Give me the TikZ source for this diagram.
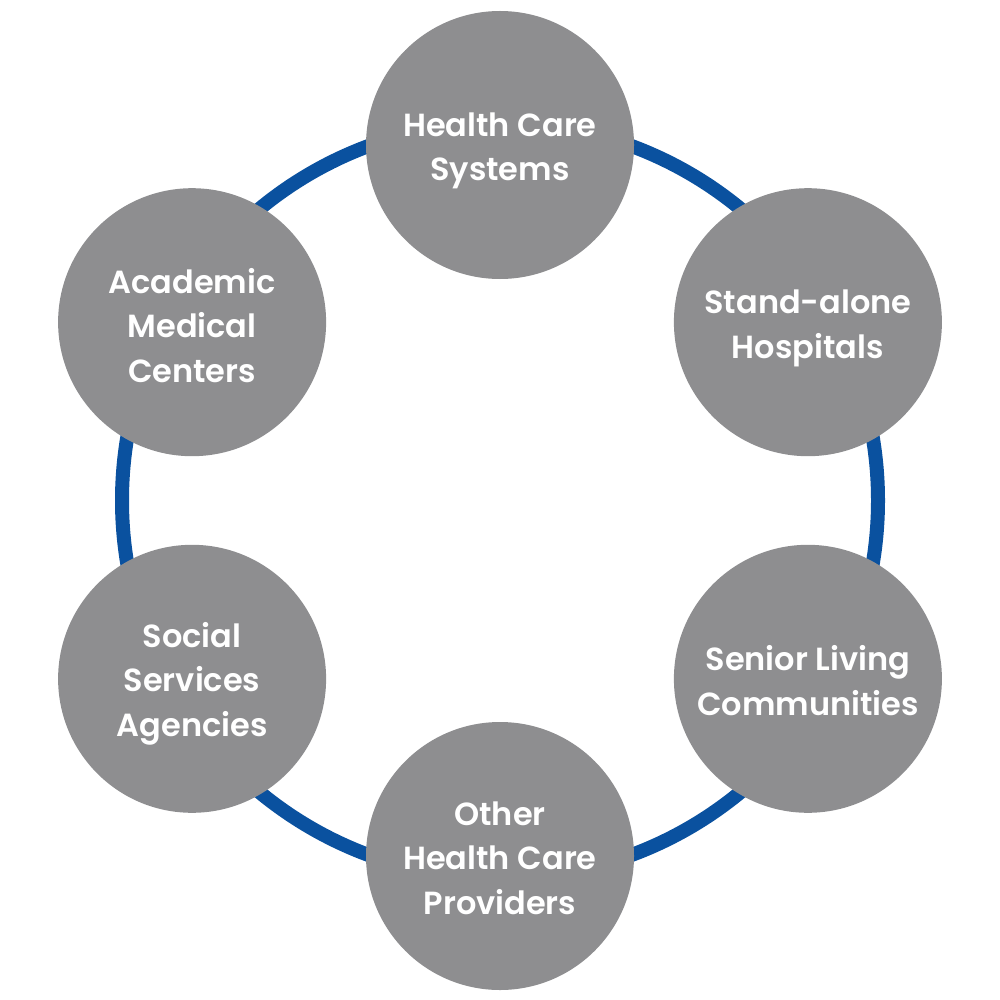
\documentclass[tikz,border=0pt]{standalone}
\usepackage{fontspec}
\setmainfont{Poppins}[UprightFont=* SemiBold,Ligatures=NoCommon]
\definecolor{ringblue}{HTML}{0A519F}
\definecolor{discgray}{HTML}{8E8E90}
\begin{document}
\begin{tikzpicture}[x=1pt,y=-1pt,
  disc/.style={circle,fill=discgray,minimum size=268pt,inner sep=0pt},
  lbl/.style={text=white,align=center,font=\fontsize{32}{44.5}\selectfont},
  ring/.style={draw=ringblue,line width=14pt}]
\useasboundingbox (0,0) rectangle (1000,1000);
\coordinate (c) at (500,500.5);
\draw[ring] (c) circle[radius=378];
\node[disc] (hcs) at (500,145) {};
\node[disc] (sah) at (807.9,322.2) {};
\node[disc] (slc) at (807.9,678.8) {};
\node[disc] (ohp) at (500,856) {};
\node[disc] (ssa) at (192.1,678.8) {};
\node[disc] (amc) at (192.1,322.2) {};
\node[lbl] (hcst) at ([yshift=-6pt]hcs.center) {Health Care\\Systems};
\node[lbl] (saht) at ([yshift=-6pt]sah.center) {Stand-alone\\Hospitals};
\node[lbl] (slct) at ([yshift=-2pt]slc.center) {Senior Living\\Communities};
\node[lbl] (ohpt) at ([yshift=-2pt]ohp.center) {Other\\Health Care\\Providers};
\node[lbl] (ssat) at ([yshift=-5pt]ssa.center) {Social\\Services\\Agencies};
\node[lbl] (amct) at ([yshift=-3pt]amc.center) {Academic\\Medical\\Centers};
\end{tikzpicture}
\end{document}
